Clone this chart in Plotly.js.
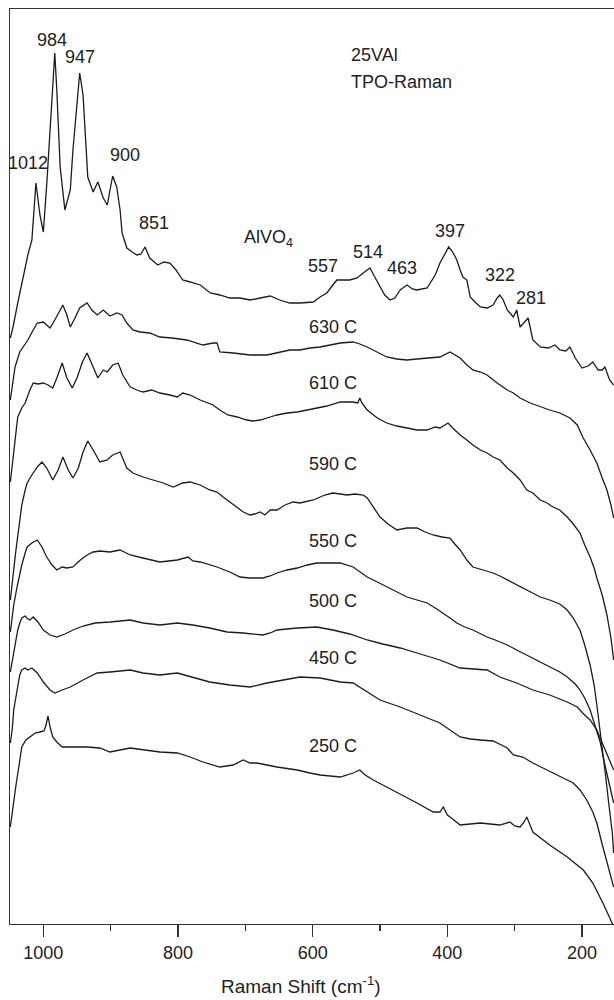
<!DOCTYPE html>
<html>
<head>
<meta charset="utf-8">
<script src="https://cdn.plot.ly/plotly-3.0.1.min.js"></script>
<style>html,body{margin:0;padding:0;background:#fff;}#chart{width:614px;height:1000px;}</style>
</head>
<body>
<div id="chart"></div>
<script>
// Raman shift (cm-1) and stacked intensity (a.u., offset) for each spectrum
const x_top = [1049,1045,1038,1030,1023,1017,1014,1011,1005,1000,995,990,986,983,980,975,968,960,956,951,946,941,938,934,926,919,911,905,901,897,891,886,883,876,868,861,855,849,842,830,821,812,803,793,782,767,752,738,723,708,693,678,663,649,634,619,599,589,579,570,564,545,534,525,515,507,500,493,485,478,470,460,452,445,430,424,418,411,406,398,392,386,381,377,371,366,359,351,341,332,326,322,317,311,302,297,292,285,280,273,262,250,240,233,224,218,210,200,191,184,176,170,166,159,153];
const y_top = [586,597,621,647,669,684,712,741,709,692,739,791,844,871,834,757,714,734,774,814,851,829,797,747,732,742,726,719,734,748,737,714,691,676,672,669,670,677,666,659,662,661,654,644,642,639,631,629,626,626,624,626,628,624,621,621,622,627,631,639,644,644,646,651,656,646,637,629,624,626,634,639,635,634,636,642,649,661,667,677,672,664,654,647,644,627,622,617,616,619,626,629,624,614,607,614,597,602,606,584,577,576,579,574,573,577,566,556,558,562,554,554,557,544,539];

const x_630 = [1049,1045,1042,1035,1030,1023,1015,1009,1000,995,990,983,975,971,965,960,953,946,935,928,920,911,901,891,883,876,867,856,842,827,809,787,763,748,742,738,718,693,668,648,634,619,604,589,574,559,540,530,519,504,490,475,460,445,430,411,396,389,381,371,362,351,341,326,311,302,292,277,262,248,233,218,207,199,188,178,170,163,157,153];
const y_630 = [524,544,557,572,577,584,594,601,602,599,596,604,614,619,609,597,606,616,621,614,609,614,608,611,609,601,594,592,591,587,586,584,579,581,581,572,571,569,569,572,574,574,576,577,579,581,582,580,577,572,567,565,564,565,566,567,572,569,566,559,554,552,549,541,534,531,526,521,517,514,511,506,499,487,474,461,446,434,419,406];

const x_610 = [1049,1045,1042,1038,1032,1027,1020,1015,1008,1000,993,986,980,972,965,957,950,942,935,926,919,911,905,897,889,882,871,861,852,839,827,812,801,793,782,767,757,748,738,726,712,698,689,678,663,653,638,623,608,594,579,559,540,533,530,527,519,504,490,475,460,445,430,418,411,399,392,381,371,362,351,341,332,322,311,302,292,282,273,262,252,243,233,222,213,203,196,188,182,178,170,163,157,153];
const y_610 = [442,464,484,507,516,521,534,541,540,541,539,536,546,561,546,536,546,562,571,557,546,554,552,559,561,549,537,534,532,534,531,529,527,531,529,524,521,519,514,509,507,504,503,504,507,509,511,512,514,516,518,522,522,521,526,521,514,506,501,498,496,494,494,497,496,501,496,489,484,479,474,471,467,464,456,451,444,434,431,424,421,417,414,407,400,391,379,367,356,346,329,309,286,264];

const x_590 = [1049,1046,1044,1041,1038,1032,1027,1024,1017,1009,1002,995,986,978,971,963,956,948,941,934,926,916,905,897,886,876,867,852,837,822,807,793,782,767,753,742,733,723,712,703,693,686,678,671,663,653,641,629,619,599,582,570,559,549,537,525,519,515,507,500,488,475,460,445,433,421,408,396,389,381,371,362,347,332,322,311,297,282,262,248,233,222,213,203,196,188,182,178,172,166,160,155,153];
const y_590 = [324,339,354,372,387,419,434,441,449,457,462,456,444,454,467,454,446,456,472,483,474,462,464,469,472,456,451,447,444,441,437,441,442,439,434,432,427,422,417,412,409,410,412,409,414,414,419,422,421,424,429,431,430,429,430,429,426,422,414,407,400,394,396,396,392,389,387,386,380,374,364,357,354,351,348,344,339,334,327,324,320,314,306,294,279,259,239,219,189,154,119,91,71];

const x_550 = [1049,1046,1044,1039,1035,1032,1027,1024,1017,1009,1002,995,987,980,972,965,956,945,935,926,916,901,886,871,852,827,801,785,778,767,742,723,708,693,674,663,653,638,623,608,594,574,559,540,530,519,504,490,475,460,445,430,418,406,396,386,374,362,351,341,329,311,297,285,273,260,248,233,222,210,203,196,188,181,173,166,158,153];
const y_550 = [292,306,319,337,351,359,371,377,381,384,377,367,359,354,357,356,357,364,369,372,373,372,374,369,366,362,364,367,363,362,357,352,347,346,346,348,351,354,356,359,361,361,361,357,352,347,342,337,332,327,324,321,316,311,306,301,297,294,290,287,284,279,274,270,266,261,257,252,247,240,234,226,214,200,182,159,136,121];

const x_500 = [1049,1046,1044,1041,1038,1035,1032,1027,1023,1020,1015,1008,1000,990,980,968,956,941,923,901,886,871,852,827,801,778,753,727,703,674,663,653,638,623,594,570,545,519,496,470,445,411,381,359,341,322,297,273,248,222,207,199,188,178,169,161,153];
const y_500 = [252,264,274,284,294,301,306,308,305,304,307,302,294,289,287,290,294,298,301,302,303,304,301,299,301,299,296,292,291,289,291,294,295,296,297,294,290,284,280,276,271,264,256,255,254,247,241,234,229,222,217,211,204,194,179,166,154];

const x_450 = [1049,1046,1044,1039,1035,1032,1027,1023,1017,1009,1000,990,983,972,960,941,920,901,871,852,827,801,778,753,723,693,668,644,619,589,559,540,519,500,470,441,411,381,366,351,332,311,302,288,273,243,213,203,193,184,178,169,158,153];
const y_450 = [181,196,214,234,249,254,256,254,256,251,242,234,231,234,237,244,251,252,254,251,249,251,247,242,239,237,241,244,247,246,242,241,232,224,217,209,201,187,185,184,183,176,169,167,161,151,141,134,124,112,101,77,51,37];

const x_250 = [1049,1045,1041,1036,1032,1026,1020,1012,1005,999,996,993,990,986,980,972,953,935,916,901,871,852,827,801,782,763,738,718,703,693,683,653,623,604,589,559,540,530,522,510,481,445,421,411,406,400,396,381,351,322,307,300,292,286,282,277,273,248,222,198,184,169,158,154];
const y_250 = [97,119,137,159,177,184,187,191,192,193,199,208,197,187,182,177,177,177,176,172,176,174,172,171,167,162,157,159,164,161,161,157,154,151,149,147,151,154,149,144,134,121,112,112,117,109,107,99,101,99,102,98,97,102,107,99,92,79,67,54,41,21,6,-1];

// Peak / series labels
const peakLabels = ['984','947','1012','900','851','557','514','463','397','322','281'];
const peakX      = [987, 946, 1023, 879, 836, 585, 518, 467, 396, 322, 276];
const peakY      = [884, 867, 761, 769, 701, 658, 672, 656, 693, 649, 626];
const tempLabels = ['630 C','610 C','590 C','550 C','500 C','450 C','250 C'];
const tempY      = [597, 541, 460, 383, 323, 266, 178];
const tempX = 608;

const lineStyle = {color:'#1c1c1c', width:1.3};
const series = [[x_top,y_top],[x_630,y_630],[x_610,y_610],[x_590,y_590],[x_550,y_550],[x_500,y_500],[x_450,y_450],[x_250,y_250]];
const traces = series.map(s => ({x:s[0], y:s[1], type:'scatter', mode:'lines', line:lineStyle, hoverinfo:'skip'}));

const font = {family:'"Liberation Sans", Arial, sans-serif', size:18, color:'#222'};
const annotations = [];
peakLabels.forEach((t,i)=>annotations.push({x:peakX[i], y:peakY[i], text:t, showarrow:false, xanchor:'center', yanchor:'middle', font:font}));
tempLabels.forEach((t,i)=>annotations.push({x:tempX, y:tempY[i], text:t, showarrow:false, xanchor:'left', yanchor:'middle', font:font}));
annotations.push({x:705, y:686, text:'AlVO<sub>4</sub>', showarrow:false, xanchor:'left', yanchor:'middle', font:font});
annotations.push({x:546, y:869, text:'25VAl', showarrow:false, xanchor:'left', yanchor:'middle', font:font});
annotations.push({x:546, y:842, text:'TPO-Raman', showarrow:false, xanchor:'left', yanchor:'middle', font:font});
// x-axis title, placed as in the reference
annotations.push({xref:'paper', yref:'paper', x:0.482, y:-0.067, text:'Raman Shift (cm<sup>-1</sup>)', showarrow:false, xanchor:'center', yanchor:'middle', font:{family:font.family, size:19, color:'#222'}});

const layout = {
  width:614, height:1000,
  margin:{l:10, r:0, t:9, b:76},
  paper_bgcolor:'#fff', plot_bgcolor:'#fff',
  showlegend:false,
  font:font,
  xaxis:{
    range:[1049.5,152.5], tick0:0, dtick:200, ticks:'outside', ticklen:12, tickwidth:1.2, tickcolor:'#333',
    minor:{dtick:100, ticks:'outside', ticklen:6, tickwidth:1.2, tickcolor:'#333'},
    showline:true, linecolor:'#333', linewidth:1.4, mirror:true,
    showgrid:false, zeroline:false, tickfont:font
  },
  yaxis:{
    range:[0,915], showticklabels:false, ticks:'', showgrid:false, zeroline:false,
    showline:true, linecolor:'#333', linewidth:1.4, mirror:false
  },
  annotations:annotations
};
Plotly.newPlot('chart', traces, layout, {staticPlot:true, displayModeBar:false});
</script>
</body>
</html>
